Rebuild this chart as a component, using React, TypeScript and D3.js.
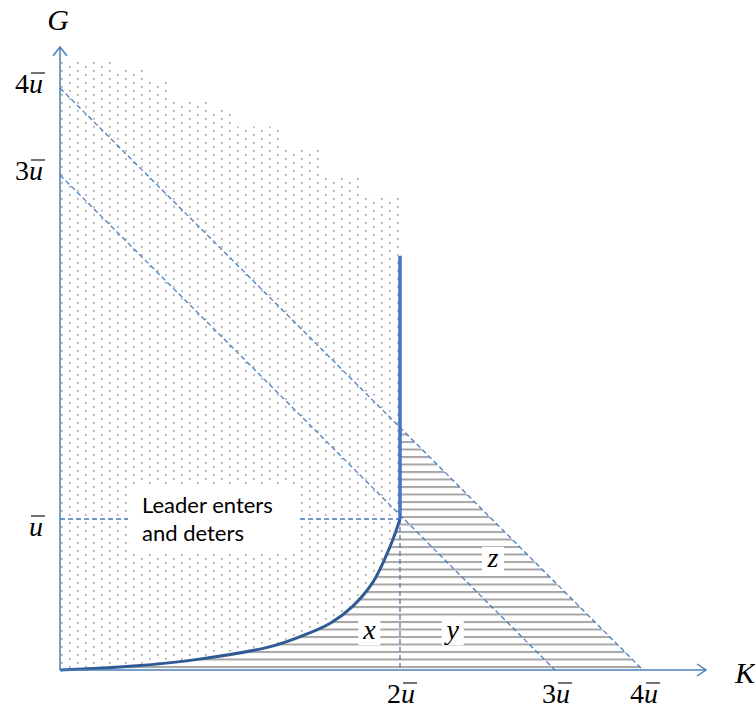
import React from "react";
import * as d3 from "d3";

// ---- data (in units of ū) ----
const kTickValues = [2, 3, 4];
const kTickLabels = ["2", "3", "4"];
const gTickValues = [1, 3, 4];
const gTickLabels = ["", "3", "4"];

// entry-deterrence boundary curve
const curveK = [0, 0.43, 0.82, 1.22, 1.41, 1.59, 1.72, 1.84, 1.92, 1.97, 2];
const curveG = [0, 0.026, 0.072, 0.15, 0.22, 0.31, 0.42, 0.58, 0.76, 0.9, 1];

// top of the dotted region (stair steps)
const dotStepK = [0, 0.306, 0.5, 0.647, 0.87, 1.018, 1.294, 1.53, 1.765, 2];
const dotStepG = [4.31, 4.21, 4.07, 3.86, 3.77, 3.56, 3.31, 2.99, 2.88];

const verticalTopG = 2.53;
const isoLines = [3, 4];
const regionLabels = ["x", "y", "z"];
const regionLabelK = [1.82, 2.34, 2.6];
const regionLabelG = [0.25, 0.25, 0.73];

const W = 755;
const H = 708;

const x = d3.scaleLinear().domain([0, 2, 3, 4]).range([60, 400, 555, 643]);
const y = d3.scaleLinear().domain([0, 1, 3, 4]).range([670, 519, 175, 88]);

const BLUE = "#4a7ebb";
const DARK = "#2f5a94";
const GRAY = "#a6a6a6";
const SERIF = "'Liberation Serif', 'DejaVu Serif', serif";
const TICK_FS = 28;

function UBar({ cx, by, digit, anchor }: { cx: number; by: number; digit: string; anchor: "middle" | "end" }) {
  const dw = digit ? TICK_FS * 0.5 : 0;
  const uw = TICK_FS * 0.5;
  const total = dw + uw;
  const left = anchor === "middle" ? cx - total / 2 : cx - total;
  const uLeft = left + dw;
  return (
    <g>
      <text x={left} y={by} fontFamily={SERIF} fontSize={TICK_FS} fill="#000">
        <tspan>{digit}</tspan>
        <tspan fontStyle="italic">u</tspan>
      </text>
      <line x1={uLeft + 2} x2={uLeft + uw + 2} y1={by - 20} y2={by - 20} stroke="#000" strokeWidth={1.1} />
    </g>
  );
}

export default function App() {
  const curveGen = d3.line().curve(d3.curveCatmullRom.alpha(0.5));
  const curvePts: [number, number][] = curveK.map((k, i) => [x(k), y(curveG[i])]);
  const curvePath = curveGen(curvePts) as string;

  // dotted region
  const top: [number, number][] = [];
  for (let i = dotStepG.length - 1; i >= 0; i--) {
    top.push([x(dotStepK[i + 1]), y(dotStepG[i])]);
    top.push([x(dotStepK[i]), y(dotStepG[i])]);
  }
  const dottedPath = curvePath + "L" + top.map((p) => p.join(",")).join("L") + "Z";

  // hatched region
  const x0 = x(0), x2 = x(2), x4 = x(4);
  const y4 = y(4), y0 = y(0);
  const yMeet = y4 + ((x2 - x0) / (x4 - x0)) * (y0 - y4);
  const hatchPath = curvePath + `L${x2},${yMeet}L${x4},${y0}L${x0},${y0}Z`;

  const dash = "5 3";

  return (
    <svg width={W} height={H} style={{ position: "absolute", left: 0, top: 0, background: "#fff" }}>
      <defs>
        <pattern id="dots" patternUnits="userSpaceOnUse" width={16} height={8} x={69} y={2}>
          <rect x={0} y={0} width={1.7} height={1.7} fill={GRAY} />
          <rect x={8} y={4} width={1.7} height={1.7} fill={GRAY} />
        </pattern>
        <pattern id="hatch" patternUnits="userSpaceOnUse" width={10} height={7.5} x={0} y={666}>
          <rect x={0} y={0} width={10} height={2} fill={GRAY} />
        </pattern>
      </defs>

      <path d={dottedPath} fill="url(#dots)" />
      <path d={hatchPath} fill="url(#hatch)" />

      {/* region labels */}
      {regionLabels.map((t, i) => (
        <g key={t}>
          <rect x={x(regionLabelK[i]) - 11} y={y(regionLabelG[i]) - 13} width={22} height={26} fill="#fff" />
          <text
            x={x(regionLabelK[i])}
            y={y(regionLabelG[i]) + 7}
            textAnchor="middle"
            fontFamily={SERIF}
            fontStyle="italic"
            fontSize={28}
            fill="#000"
          >
            {t}
          </text>
        </g>
      ))}

      {/* dashed iso lines */}
      {isoLines.map((n) => (
        <line key={n} x1={x(0)} y1={y(n)} x2={x(n)} y2={y(0)} stroke={BLUE} strokeWidth={1.3} strokeDasharray={dash} />
      ))}
      <line x1={x(0)} y1={y(1)} x2={x(2)} y2={y(1)} stroke={BLUE} strokeWidth={1.3} strokeDasharray={dash} />
      <line x1={x(2)} y1={y(1)} x2={x(2)} y2={y(0)} stroke={BLUE} strokeWidth={1.3} strokeDasharray={dash} />

      {/* text box */}
      <rect x={128} y={486} width={170} height={68} fill="#fff" />
      <text fontFamily="Lato, 'Open Sans', sans-serif" fontSize={22} fill="#000">
        <tspan x={142} y={513}>Leader enters</tspan>
        <tspan x={142} y={541}>and deters</tspan>
      </text>

      {/* boundary */}
      <path d={curvePath} fill="none" stroke={DARK} strokeWidth={3} />
      <line x1={x(2)} y1={y(1)} x2={x(2)} y2={y(verticalTopG)} stroke="#4472c4" strokeWidth={3.5} />

      {/* axes */}
      <line x1={x(0)} y1={y(0)} x2={706} y2={y(0)} stroke={BLUE} strokeWidth={1.5} />
      <polyline points={`697,${y(0) - 6} 706,${y(0)} 697,${y(0) + 6}`} fill="none" stroke={BLUE} strokeWidth={1.5} />
      <line x1={x(0)} y1={y(0)} x2={x(0)} y2={47} stroke={BLUE} strokeWidth={1.5} />
      <polyline points={`${x(0) - 7},56 ${x(0)},47 ${x(0) + 7},56`} fill="none" stroke={BLUE} strokeWidth={1.5} />

      <text x={58} y={30} textAnchor="middle" fontFamily={SERIF} fontStyle="italic" fontSize={30}>G</text>
      <text x={745} y={683} textAnchor="middle" fontFamily={SERIF} fontStyle="italic" fontSize={30}>K</text>

      {/* tick labels */}
      {kTickValues.map((v, i) => (
        <UBar key={v} cx={x(v) + 1} by={703} digit={kTickLabels[i]} anchor="middle" />
      ))}
      {gTickValues.map((v, i) => (
        <UBar key={v} cx={43} by={y(v) + (v === 1 ? 17 : 5)} digit={gTickLabels[i]} anchor="end" />
      ))}
    </svg>
  );
}
